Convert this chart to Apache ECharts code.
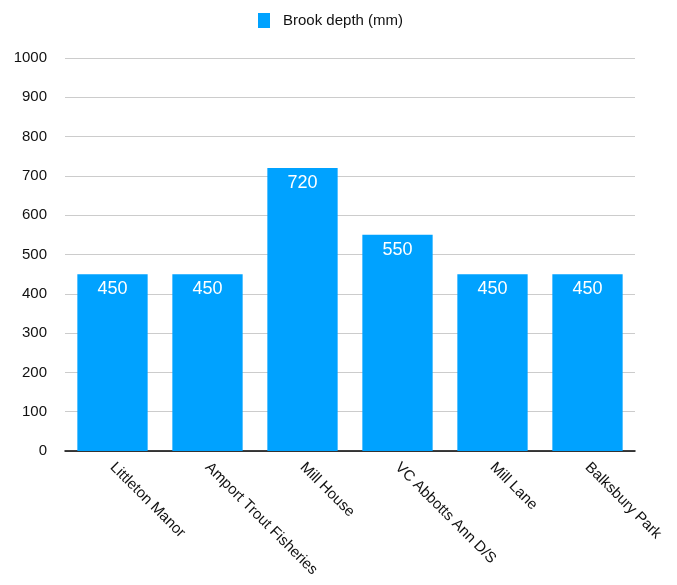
<!DOCTYPE html>
<html>
<head>
<meta charset="utf-8">
<script src="https://cdn.jsdelivr.net/npm/echarts@6/dist/echarts.min.js"></script>
<style>
  html, body { margin: 0; padding: 0; background: #fff; }
  #chart { width: 677px; height: 585px; }
</style>
</head>
<body>
<div id="chart"></div>
<script>
const sites = ['Littleton Manor', 'Amport Trout Fisheries', 'Mill House', 'VC Abbotts Ann D/S', 'Mill Lane', 'Balksbury Park'];
const depthMm = [450, 450, 720, 550, 450, 450];
const seriesName = 'Brook depth (mm)';
const FONT = 'Liberation Sans, Arial, sans-serif';

const chart = echarts.init(document.getElementById('chart'));
chart.setOption({
  animation: false,
  textStyle: { fontFamily: FONT },
  legend: {
    top: 8,
    left: 253,
    itemWidth: 12,
    itemHeight: 15,
    itemGap: 10,
    icon: 'rect',
    textStyle: { fontSize: 15, color: '#111', fontFamily: FONT, padding: [0, 0, 0, 8] },
    data: [seriesName]
  },
  grid: { left: 65, right: 42, top: 58, bottom: 134, containLabel: false },
  xAxis: {
    type: 'category',
    data: sites,
    axisLine: { lineStyle: { color: '#000', width: 1.5 } },
    axisTick: { show: false },
    axisLabel: {
      rotate: -45,
      interval: 0,
      margin: 14,
      fontSize: 15,
      color: '#111',
      fontFamily: FONT
    }
  },
  yAxis: {
    type: 'value',
    min: 0,
    max: 1000,
    interval: 100,
    axisLine: { show: false },
    axisTick: { show: false },
    axisLabel: {
      fontSize: 15,
      color: '#111',
      margin: 18,
      fontFamily: FONT,
      formatter: function (v) { return String(v); }
    },
    splitLine: { lineStyle: { color: '#cccccc', width: 1 } }
  },
  series: [{
    name: seriesName,
    type: 'bar',
    data: depthMm,
    barCategoryGap: '26%',
    itemStyle: { color: '#00a2ff' },
    label: {
      show: true,
      position: 'insideTop',
      distance: 6,
      color: '#fff',
      fontSize: 18,
      fontFamily: FONT
    }
  }]
});
</script>
</body>
</html>
